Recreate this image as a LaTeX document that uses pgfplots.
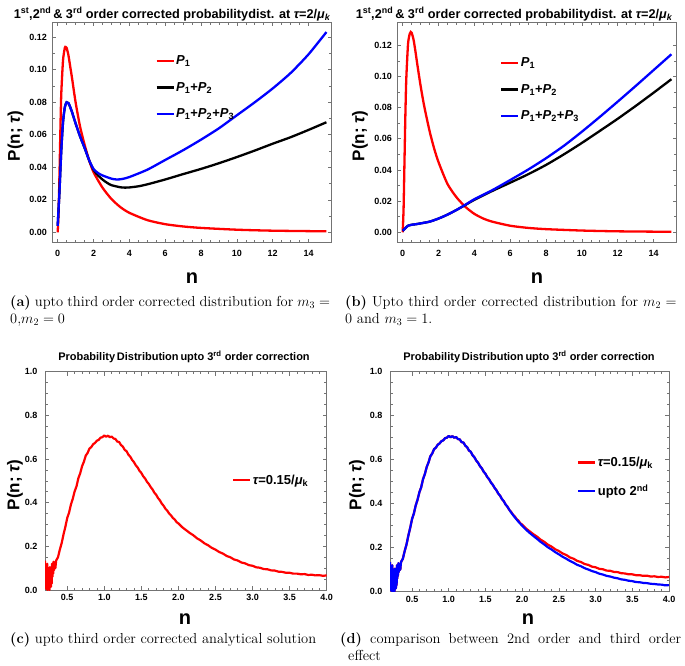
\documentclass[border=0pt]{standalone}
\usepackage{fontspec}
\usepackage{pgfplots}
\usepackage{pgfplotstable}
\pgfplotsset{compat=1.18}
\newfontfamily\arialf{Liberation Sans}

\newcommand{\tickfont}{\arialf\bfseries\fontsize{9}{11}\selectfont}
\newcommand{\legfont}{\arialf\bfseries\fontsize{13}{15}\selectfont}
\newcommand{\titfont}{\arialf\bfseries\fontsize{12.7}{15}\selectfont}
\newcommand{\titfontb}{\arialf\bfseries\fontsize{11}{13}\selectfont}
\newcommand{\ylabfont}{\arialf\bfseries\fontsize{17}{20}\selectfont}
\newcommand{\xlabfont}{\arialf\bfseries\fontsize{20}{24}\selectfont}
\newcommand{\capfont}{\fontsize{14.5}{17}\selectfont}
\newcommand{\Pk}[1]{\textit{P}\textsubscript{#1}}

\definecolor{frame}{gray}{0.45}

\pgfplotsset{
  mma/.style={
    scale only axis,
    anchor=south west,
    axis line style={draw=frame, line width=0.8pt},
    every tick/.style={draw=frame, line width=0.6pt},
    major tick length=4pt,
    minor tick length=2.5pt,
    tick align=inside,
    ticklabel style={font=\tickfont},
    /pgf/number format/assume math mode=true,
    legend cell align=left,
    legend image code/.code={\draw[##1] (0pt,0pt) -- (17pt,0pt);},
    legend style={draw=none, fill=none, anchor=north west, inner sep=0pt,
      font=\legfont, row sep=13pt, nodes={inner sep=1.5pt}},
  },
  topplot/.style={
    mma,
    width=279.5pt, height=220.7pt,
    xmin=-0.3, xmax=15.3,
    xtick={0,2,4,6,8,10,12,14},
    ytick={0,0.02,0.04,0.06,0.08,0.1,0.12},
    minor x tick num=3, minor y tick num=1,
    yticklabel style={/pgf/number format/fixed, /pgf/number format/fixed zerofill,
      /pgf/number format/precision=2, xshift=-2pt},
    xticklabel style={yshift=-4pt},
  },
  botplot/.style={
    mma,
    xmin=0.2, xmax=4.0, ymin=0, ymax=1,
    xtick={0.5,1,1.5,2,2.5,3,3.5,4},
    ytick={0,0.2,0.4,0.6,0.8,1},
    minor x tick num=4, minor y tick num=3,
    xticklabel style={/pgf/number format/fixed, /pgf/number format/fixed zerofill,
      /pgf/number format/precision=1, yshift=-1pt},
    yticklabel style={/pgf/number format/fixed, /pgf/number format/fixed zerofill,
      /pgf/number format/precision=1, xshift=-4pt},
  },
  curve/.style={line width=2.3pt, smooth, tension=0.4},
}

% ---------- (a) m3=0, m2=0
\pgfplotstableread{
n y
0 0
0.05 0.012
0.1 0.035
0.15 0.062
0.2 0.085
0.3 0.106
0.4 0.1135
0.45 0.114
0.5 0.1135
0.6 0.109
0.7 0.102
0.8 0.095
1.0 0.080
1.25 0.065
1.5 0.054
1.75 0.0445
2.0 0.037
2.5 0.0275
3.0 0.0205
3.5 0.0155
4.0 0.012
5.0 0.0075
6.0 0.005
7.0 0.0036
8.0 0.0027
10 0.0016
12 0.001
15 0.0006
}\aRed
\pgfplotstableread{
n y
0 0.004
0.1 0.025
0.2 0.05
0.3 0.068
0.4 0.077
0.5 0.080
0.6 0.0795
0.7 0.077
0.8 0.074
1.0 0.067
1.25 0.059
1.5 0.052
1.75 0.0445
2.0 0.0385
2.25 0.035
2.5 0.0325
2.75 0.0305
3.0 0.029
3.5 0.0277
3.75 0.0275
4.0 0.0276
4.5 0.0283
5.0 0.0295
6.0 0.0325
7.0 0.0358
8.0 0.039
9.0 0.0425
10.0 0.0463
11.0 0.0503
12.0 0.0545
13.0 0.0585
14.0 0.063
15.0 0.0677
}\aBlack
\pgfplotstableread{
n y
0 0.004
0.1 0.025
0.2 0.05
0.3 0.068
0.4 0.077
0.5 0.080
0.6 0.0795
0.7 0.077
0.8 0.074
1.0 0.067
1.25 0.059
1.5 0.052
1.75 0.0445
2.0 0.039
2.25 0.0365
2.5 0.035
3.0 0.033
3.3 0.0325
3.6 0.0328
4.0 0.034
5.0 0.0385
6.0 0.0445
7.0 0.0505
8.0 0.057
9.0 0.064
10.0 0.072
11.0 0.080
12.0 0.0885
13.0 0.098
14.0 0.1095
15.0 0.1232
}\aBlue

% ---------- (b) m2=0, m3=1
\pgfplotstableread{
n y
0 0
0.05 0.015
0.1 0.045
0.15 0.075
0.2 0.098
0.3 0.121
0.4 0.1275
0.45 0.1285
0.5 0.128
0.6 0.124
0.7 0.117
0.8 0.109
1.0 0.094
1.2 0.081
1.5 0.065
1.75 0.054
2.0 0.045
2.5 0.031
3.0 0.0225
3.5 0.0163
4.0 0.0118
4.5 0.0088
5.0 0.0068
6.0 0.0042
7.0 0.0028
8.0 0.002
10 0.0011
12 0.0006
15 0.0003
}\bRed
\pgfplotstableread{
n y
0 0.001
0.1 0.002
0.2 0.0033
0.3 0.0042
0.5 0.0048
0.75 0.0052
1.0 0.0057
1.5 0.0068
2.0 0.0088
2.5 0.0113
3.0 0.0143
3.5 0.0175
4.0 0.0208
5.0 0.0265
6.0 0.0318
7.0 0.0372
8.0 0.0432
9.0 0.050
10.0 0.0573
11.0 0.065
12.0 0.0728
13.0 0.081
14.0 0.0895
15.0 0.0982
}\bBlack
\pgfplotstableread{
n y
0 0.001
0.1 0.002
0.2 0.0033
0.3 0.0042
0.5 0.0048
0.75 0.0052
1.0 0.0057
1.5 0.0068
2.0 0.0088
2.5 0.0113
3.0 0.0143
3.5 0.0177
4.0 0.0212
5.0 0.027
6.0 0.0335
7.0 0.0402
8.0 0.0475
9.0 0.0555
10.0 0.0645
11.0 0.074
12.0 0.0838
13.0 0.0938
14.0 0.104
15.0 0.1142
}\bBlue

% ---------- (c),(d) tau = 0.15/mu_k
\pgfplotstableread{
n y
0.200 0.135
0.205 0.030
0.210 0.110
0.215 0.005
0.220 0.090
0.225 0.020
0.230 0.120
0.235 0.000
0.240 0.070
0.245 0.100
0.250 0.010
0.255 0.085
0.260 0.000
0.265 0.105
0.270 0.040
0.275 0.090
0.280 0.015
0.285 0.070
0.290 0.030
0.295 0.120
0.300 0.060
0.305 0.115
0.310 0.075
0.315 0.130
0.320 0.090
0.330 0.125
0.340 0.100
0.350 0.135
0.375 0.150
0.400 0.185
0.425 0.215
0.450 0.255
0.475 0.290
0.500 0.330
0.525 0.355
0.550 0.392
0.575 0.418
0.600 0.452
0.625 0.475
0.650 0.512
0.675 0.535
0.700 0.567
0.725 0.588
0.750 0.616
0.775 0.628
0.800 0.648
0.825 0.655
0.850 0.668
0.875 0.674
0.900 0.684
0.925 0.688
0.950 0.698
0.975 0.700
1.000 0.708
1.025 0.702
1.050 0.707
1.075 0.700
1.100 0.703
1.125 0.694
1.150 0.692
1.175 0.680
1.200 0.678
1.225 0.664
1.250 0.657
1.275 0.642
1.300 0.636
1.325 0.620
1.350 0.611
1.375 0.596
1.400 0.586
1.425 0.571
1.450 0.561
1.475 0.546
1.500 0.536
1.525 0.521
1.550 0.511
1.575 0.496
1.600 0.486
1.625 0.472
1.650 0.461
1.675 0.446
1.700 0.436
1.725 0.421
1.750 0.411
1.775 0.396
1.800 0.386
1.825 0.372
1.850 0.363
1.875 0.350
1.900 0.342
1.925 0.330
1.950 0.323
1.975 0.311
2.000 0.305
2.050 0.288
2.100 0.275
2.150 0.262
2.200 0.251
2.250 0.237
2.300 0.227
2.350 0.214
2.400 0.205
2.450 0.193
2.500 0.185
2.550 0.174
2.600 0.167
2.650 0.156
2.700 0.150
2.750 0.140
2.800 0.135
2.850 0.126
2.900 0.122
2.950 0.114
3.000 0.111
3.050 0.104
3.100 0.102
3.150 0.096
3.200 0.095
3.250 0.090
3.300 0.089
3.350 0.084
3.400 0.083
3.450 0.079
3.500 0.079
3.550 0.075
3.600 0.075
3.650 0.072
3.700 0.073
3.750 0.069
3.800 0.070
3.850 0.067
3.900 0.068
3.950 0.065
4.000 0.067
}\cRed
% upto 2nd order, tail where it leaves the 3rd order curve
\pgfplotstableread{
n y
1.825 0.372
1.850 0.360
1.900 0.338
1.950 0.318
2.000 0.300
2.050 0.283
2.100 0.268
2.150 0.254
2.200 0.241
2.250 0.227
2.300 0.215
2.350 0.202
2.400 0.192
2.450 0.180
2.500 0.170
2.550 0.159
2.600 0.150
2.650 0.140
2.700 0.132
2.750 0.122
2.800 0.116
2.850 0.107
2.900 0.101
2.950 0.094
3.000 0.089
3.050 0.082
3.100 0.078
3.150 0.072
3.200 0.069
3.250 0.064
3.300 0.061
3.350 0.056
3.400 0.054
3.450 0.050
3.500 0.048
3.550 0.044
3.600 0.043
3.650 0.040
3.700 0.039
3.750 0.036
3.800 0.035
3.850 0.033
3.900 0.032
3.950 0.029
4.000 0.030
}\dBlueTail

\begin{document}
\begin{tikzpicture}
\useasboundingbox (0pt,0pt) rectangle (685pt,-665pt);

% ================= (a)
\begin{axis}[topplot, at={(52.3pt,-242.7pt)}, ymin=-0.0064, ymax=0.1294,
  legend style={at={(0.368,0.855)}}]
\addplot[red, curve] table[x=n,y=y] {\aRed};
\addlegendentry{\Pk{1}}
\addplot[black, curve] table[x=n,y=y] {\aBlack};
\addlegendentry{\Pk{1}+\Pk{2}}
\addplot[blue, curve] table[x=n,y=y] {\aBlue};
\addlegendentry{\Pk{1}+\Pk{2}+\Pk{3}}
\end{axis}
\node[font=\titfont] at (172pt,-14pt) {1\textsuperscript{st},2\textsuperscript{nd}\,\& 3\textsuperscript{rd} order corrected probabilitydist. at {\itshape τ}=2/{\itshape μ}\textsubscript{\itshape k}};
\node[rotate=90, font=\ylabfont] at (15.5pt,-136pt) {P(n; {\itshape τ})};
\node[font=\xlabfont] at (192pt,-278pt) {n};
\node[anchor=north west, inner sep=0pt] at (10pt,-295pt) {\parbox{324pt}{\capfont\textbf{(a)} upto third order corrected distribution for $m_3 = {}$\linebreak$0$,$m_2 = 0$}};

% ================= (b)
\begin{axis}[topplot, at={(397.3pt,-242.7pt)}, ymin=-0.0067, ymax=0.1349,
  legend style={at={(0.367,0.845)}, row sep=13pt}]
\addplot[red, curve] table[x=n,y=y] {\bRed};
\addlegendentry{\Pk{1}}
\addplot[black, curve] table[x=n,y=y] {\bBlack};
\addlegendentry{\Pk{1}+\Pk{2}}
\addplot[blue, curve] table[x=n,y=y] {\bBlue};
\addlegendentry{\Pk{1}+\Pk{2}+\Pk{3}}
\end{axis}
\node[font=\titfont] at (514pt,-14pt) {1\textsuperscript{st},2\textsuperscript{nd}\,\& 3\textsuperscript{rd} order corrected probabilitydist. at {\itshape τ}=2/{\itshape μ}\textsubscript{\itshape k}};
\node[rotate=90, font=\ylabfont] at (360pt,-136pt) {P(n; {\itshape τ})};
\node[font=\xlabfont] at (537pt,-278pt) {n};
\node[anchor=north west, inner sep=0pt] at (345pt,-295pt) {\parbox{336pt}{\capfont\textbf{(b)} Upto third order corrected distribution for $m_2 = {}$\linebreak$0$ and $m_3 = 1$.}};

% ================= (c)
\begin{axis}[botplot, at={(45pt,-590pt)}, width=281.7pt, height=218.3pt,
  legend style={at={(0.664,0.535)}}]
\addplot[red, line width=2.2pt, line join=round] table[x=n,y=y] {\cRed};
\addlegendentry{{\itshape τ}=0.15/{\itshape μ}\textsubscript{k}}
\end{axis}
\node[font=\titfontb] at (184pt,-357pt) {Probability\,Distribution\,upto 3\textsuperscript{rd}\ order correction};
\node[rotate=90, font=\ylabfont] at (15pt,-485pt) {P(n; {\itshape τ})};
\node[font=\xlabfont, inner sep=1pt] at (185pt,-619pt) {n};
\node[anchor=north west, inner sep=0pt] at (10pt,-632pt) {\capfont\textbf{(c)} upto third order corrected analytical solution};

% ================= (d)
\begin{axis}[botplot, at={(390pt,-591.7pt)}, width=279pt, height=220pt,
  legend style={at={(0.67,0.62)}, row sep=14pt}]
\addplot[red, line width=2.2pt, line join=round] table[x=n,y=y] {\cRed};
\addlegendentry{{\itshape τ}=0.15/{\itshape μ}\textsubscript{k}}
\addplot[blue, line width=2.2pt, line join=round, restrict x to domain=0.2:1.83, forget plot] table[x=n,y=y] {\cRed};
\addplot[blue, line width=2.2pt, line join=round] table[x=n,y=y] {\dBlueTail};
\addlegendentry{upto 2\textsuperscript{nd}}
\end{axis}
\node[font=\titfontb] at (529pt,-357pt) {Probability\,Distribution\,upto 3\textsuperscript{rd}\ order correction};
\node[rotate=90, font=\ylabfont] at (357pt,-485pt) {P(n; {\itshape τ})};
\node[font=\xlabfont, inner sep=1pt] at (528pt,-619pt) {n};
\node[anchor=north west, inner sep=0pt] at (340pt,-632pt) {\parbox{341pt}{\capfont\textbf{(d)} comparison between 2nd order and third order\linebreak\hspace*{8pt}effect}};
\end{tikzpicture}
\end{document}
